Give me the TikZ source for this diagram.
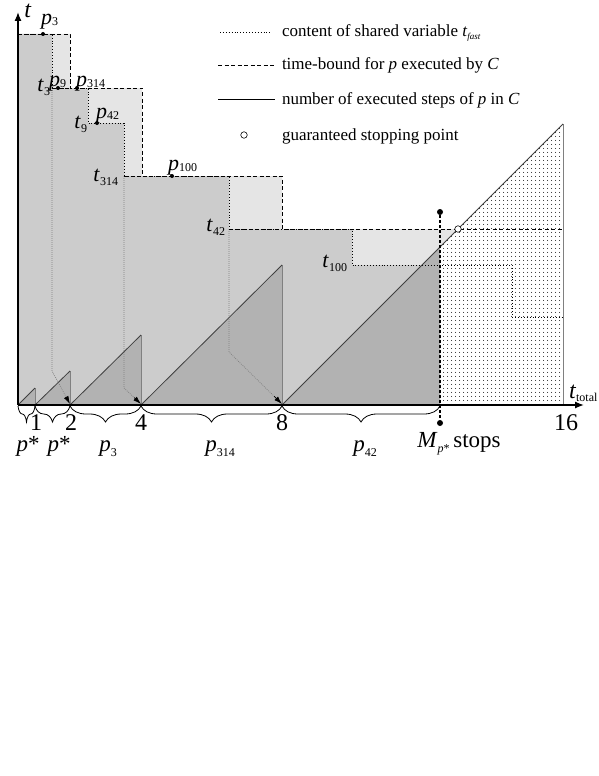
\documentclass[tikz,border=0pt]{standalone}
\usepackage{fontspec}
\setmainfont{Liberation Serif}
\usetikzlibrary{calc,decorations.pathreplacing,patterns.meta,arrows.meta}
\definecolor{gmed}{gray}{0.8}
\definecolor{glight}{gray}{0.9}
\definecolor{gdark}{gray}{0.7}
\definecolor{gline}{gray}{0.5}
\definecolor{dline}{gray}{0.25}
\newcommand\sbs[2][-4pt]{\raisebox{#1}{\fontsize{12}{12}\selectfont #2}}
\tikzset{
  lab/.style={font=\fontsize{22}{22}\selectfont, inner sep=0pt, outer sep=0pt},
  axl/.style={font=\fontsize{24}{24}\selectfont, inner sep=0pt, outer sep=0pt},
  bot/.style={font=\fontsize{23}{23}\selectfont, inner sep=0pt, outer sep=0pt},
  leg/.style={font=\fontsize{17}{17}\selectfont, inner sep=0pt, outer sep=0pt, anchor=base west},
  tfast/.style={dash pattern=on 0.9pt off 2pt, line width=0.9pt},
  tbound/.style={dash pattern=on 4pt off 2.5pt, line width=0.8pt},
  pointer/.style={gline, dash pattern=on 0.8pt off 1.2pt, line width=0.7pt},
  ptip/.style={black, line width=0.7pt, -{Latex[length=8pt,width=5pt,black]}},
  steps/.style={dline, line width=0.8pt},
  stepv/.style={gline, line width=0.8pt},
  pdot/.style={circle, fill=black, inner sep=0pt, minimum size=4pt},
  bigdot/.style={circle, fill=black, inner sep=0pt, minimum size=6pt},
  ring/.style={circle, draw=black, fill=white, inner sep=0pt, minimum size=6.5pt, line width=0.6pt},
  brc/.style={decorate, decoration={brace, amplitude=16pt, mirror}, line width=0.8pt},
  axis/.style={line width=1.3pt, -{Latex[length=9pt,width=7pt]}}
}
\begin{document}
\begin{tikzpicture}[x=1pt,y=-1pt]
\useasboundingbox (0,0) rectangle (599,776);
% fills
\fill[glight] (18,405) -- (18,34) -- (70,34) -- (70,88) -- (142,88) -- (142,176) -- (282,176) -- (282,229) -- (458,229) -- (440,247) -- (440,405) -- cycle;
\fill[gmed] (18,405) -- (18,34) -- (52,34) -- (52,88) -- (88,88) -- (88,123) -- (124,123) -- (124,176) -- (229,176) -- (229,229) -- (352,229) -- (352,265) -- (440,265) -- (440,405) -- cycle;
\fill[gdark] (18,405) -- (35,388) -- (35,405) -- cycle;
\fill[gdark] (35,405) -- (70,371) -- (70,405) -- cycle;
\fill[gdark] (70,405) -- (141,335) -- (141,405) -- cycle;
\fill[gdark] (141,405) -- (282,265) -- (282,405) -- cycle;
\fill[gdark] (282,405) -- (440,247) -- (440,405) -- cycle;
\fill[pattern={Dots[distance=4pt,radius=0.6pt]}] (440,405) -- (440,247) -- (563,124) -- (563,405) -- cycle;
% pointers of t_fast
\coordinate (a1) at (52,371); \coordinate (a1t) at (70,404);
\coordinate (a2) at (124,388); \coordinate (a2t) at (141,404);
\coordinate (a3) at (229,352); \coordinate (a3t) at (282,404);
\draw[pointer] (52,88) -- (a1) -- (a1t);
\draw[pointer] (124,176) -- (a2) -- (a2t);
\draw[pointer] (229,229) -- (a3) -- (a3t);
\draw[ptip] ($(a1)!0.8!(a1t)$) -- (a1t);
\draw[ptip] ($(a2)!0.6!(a2t)$) -- (a2t);
\draw[ptip] ($(a3)!0.85!(a3t)$) -- (a3t);
% t_fast staircase
\draw[tfast] (18,34) -- (52,34) -- (52,88) -- (88,88) -- (88,123) -- (124,123) -- (124,176) -- (229,176) -- (229,229) -- (352,229) -- (352,265) -- (512,265) -- (512,317) -- (563,317);
% time bound
\draw[tbound] (18,34) -- (70,34) -- (70,88) -- (142,88) -- (142,176) -- (282,176) -- (282,229) -- (563,229);
\draw[tbound] (52,88) -- (70,88);
\draw[tbound] (124,176) -- (142,176);
\draw[tbound] (229,229) -- (282,229);
% executed steps
\draw[stepv] (35,388) -- (35,405);
\draw[stepv] (70,371) -- (70,405);
\draw[stepv] (141,335) -- (141,405);
\draw[stepv] (282,265) -- (282,405);
\draw[stepv] (563,124) -- (563,405);
\draw[steps] (18,405) -- (35,388);
\draw[steps] (35,405) -- (70,371);
\draw[steps] (70,405) -- (141,335);
\draw[steps] (141,405) -- (282,265);
\draw[steps] (282,405) -- (563,124);
% stopping line
\node[bigdot] (stopTop) at (440,212) {};
\node[bigdot] (stopBot) at (440,423) {};
\draw[line width=1.3pt, dash pattern=on 3pt off 2pt] (stopTop) -- (stopBot);
\node[ring] (stopPt) at (458,229) {};
% axes
\coordinate (O) at (18,405);
\coordinate (ytip) at (18,12);
\coordinate (xtip) at (584,405);
\draw[axis] (O) -- (ytip);
\draw[axis] (O) -- (xtip);
\node[axl, anchor=base] (tlab) at (28,18) {\textit{t}};
\node[axl, anchor=base west] (ttot) at (569,398) {\textit{t}\sbs[-3pt]{total}};
% point dots
\node[pdot] (d3) at (43,34) {};
\node[pdot] (d9) at (58,88) {};
\node[pdot] (d314) at (77,88) {};
\node[pdot] (d42) at (97,123) {};
\node[pdot] (d100) at (172,176) {};
% p labels
\node[lab, anchor=base west] (lp3) at (41,25) {\textit{p}\sbs[-1pt]{3}};
\node[lab, anchor=base west] (lp9) at (49,86) {\textit{p}\sbs[-1pt]{9}};
\node[lab, anchor=base west] (lp314) at (76,86) {\textit{p}\sbs[-1pt]{314}};
\node[lab, anchor=base west] (lp42) at (96,118) {\textit{p}\sbs[-1pt]{42}};
\node[lab, anchor=base west] (lp100) at (168,170) {\textit{p}\sbs[-1pt]{100}};
% t labels
\node[lab, anchor=base east] (lt3) at (50,91) {\textit{t}\sbs{3}};
\node[lab, anchor=base east] (lt9) at (87,128) {\textit{t}\sbs{9}};
\node[lab, anchor=base east] (lt314) at (118,181) {\textit{t}\sbs{314}};
\node[lab, anchor=base east] (lt42) at (225,231) {\textit{t}\sbs{42}};
\node[lab, anchor=base east] (lt100) at (347,267) {\textit{t}\sbs{100}};
% braces
\draw[brc] (18,406) -- (35,406);
\draw[brc] (35,406) -- (70,406);
\draw[brc] (70,406) -- (141,406);
\draw[brc] (141,406) -- (282,406);
\draw[brc] (282,406) -- (440,406);
% tick numbers
\node[axl, anchor=base] (n1) at (36,430) {1};
\node[axl, anchor=base] (n2) at (71,430) {2};
\node[axl, anchor=base] (n4) at (141,430) {4};
\node[axl, anchor=base] (n8) at (282,430) {8};
\node[axl, anchor=base] (n16) at (566,430) {16};
% interval labels
\node[bot, anchor=base] (b1) at (28,451) {\textit{p}*};
\node[bot, anchor=base] (b2) at (59,451) {\textit{p}*};
\node[bot, anchor=base] (b3) at (108,451) {\textit{p}\sbs[-5pt]{3}};
\node[bot, anchor=base] (b4) at (220,451) {\textit{p}\sbs[-5pt]{314}};
\node[bot, anchor=base] (b5) at (365,451) {\textit{p}\sbs[-5pt]{42}};
\node[bot, anchor=base] (bm) at (459,447) {\textit{M}\sbs[-5pt]{\textit{p}*}\,stops};
% legend
\coordinate (l1a) at (220,32); \coordinate (l1b) at (272,32);
\coordinate (l2a) at (218,65); \coordinate (l2b) at (275,65);
\coordinate (l3a) at (218,99); \coordinate (l3b) at (275,99);
\draw[tfast, line width=0.7pt] (l1a) -- (l1b);
\draw[tbound] (l2a) -- (l2b);
\draw[line width=0.8pt] (l3a) -- (l3b);
\node[ring] (lring) at (244,135) {};
\node[leg] (tx1) at (282,37) {content of shared variable \textit{t}\raisebox{-3pt}{\fontsize{9}{9}\selectfont\textit{fast}}};
\node[leg] (tx2) at (282,70) {time-bound for \textit{p} executed by \textit{C}};
\node[leg] (tx3) at (282,104) {number of executed steps of \textit{p} in \textit{C}};
\node[leg] (tx4) at (282,140) {guaranteed stopping point};
\end{tikzpicture}
\end{document}
